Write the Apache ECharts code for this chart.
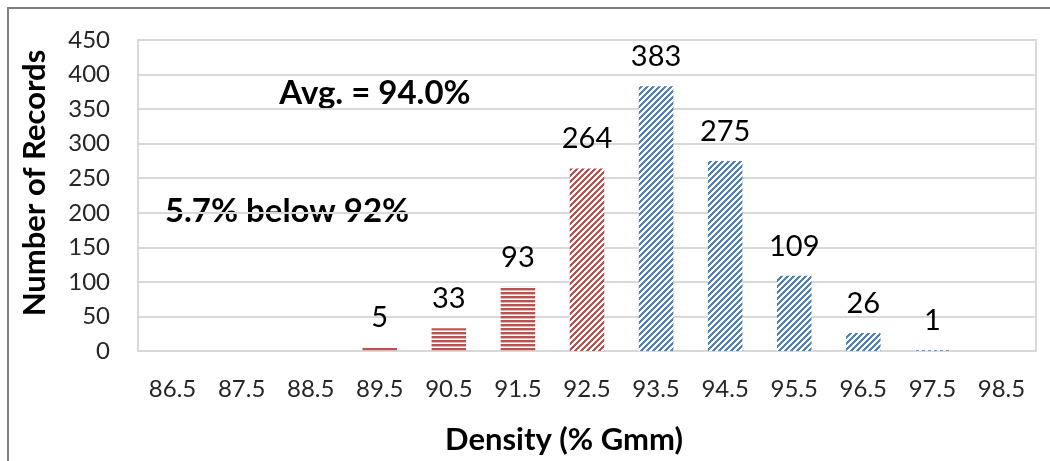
<!DOCTYPE html>
<html><head><meta charset="utf-8">
<script src="https://cdn.jsdelivr.net/npm/echarts@6/dist/echarts.min.js"></script>
<style>html,body{margin:0;padding:0;background:#fff}#c{width:1050px;height:461px}</style>
</head><body><div id="c"></div>
<script>
const categories = ['86.5','87.5','88.5','89.5','90.5','91.5','92.5','93.5','94.5','95.5','96.5','97.5','98.5'];
const counts = [0,0,0,5,33,93,264,383,275,109,26,1,0];
const yTicks = [0,50,100,150,200,250,300,350,400,450];
const yTitle = 'Number of Records';
const xTitle = 'Density (% Gmm)';
const noteAvg = 'Avg. = 94.0%';
const noteBelow = '5.7% below 92%';

const FONT = 'Lato, "Open Sans", sans-serif';
const RED = '#c0504d', BLUE = '#4f81bd';

function hPattern(col){
  const c = document.createElement('canvas'); c.width = 4; c.height = 4;
  const g = c.getContext('2d');
  g.fillStyle = '#fff'; g.fillRect(0,0,4,4);
  g.fillStyle = col; g.fillRect(0,0,4,2);
  g.globalAlpha = 0.4; g.fillRect(0,2,4,1);
  return {image: c, repeat: 'repeat'};
}
function dPattern(col){
  const n = 6;
  const c = document.createElement('canvas'); c.width = n; c.height = n;
  const g = c.getContext('2d');
  g.fillStyle = '#fff'; g.fillRect(0,0,n,n);
  g.fillStyle = col;
  for (let x=0;x<n;x++) for (let y=0;y<n;y++) if ((x+y)%n < 3) g.fillRect(x,y,1,1);
  return {image: c, repeat: 'repeat'};
}
const patH = hPattern(RED), patDR = dPattern(RED), patDB = dPattern(BLUE);
function patFor(cat){
  const v = parseFloat(cat);
  if (v < 92) return patH;
  if (v < 93) return patDR;
  return patDB;
}

const chart = echarts.init(document.getElementById('c'), null, {renderer:'canvas'});
chart.setOption({
  animation: false,
  grid: {left:138, right:14, top:40, bottom:110, show:true, borderColor:'#d9d9d9', borderWidth:2},
  xAxis: {
    type:'category', data: categories,
    axisLine:{lineStyle:{color:'#d9d9d9', width:2}},
    axisTick:{show:false},
    axisLabel:{color:'#262626', fontSize:24, fontFamily:FONT, margin:26}
  },
  yAxis: {
    type:'value', min:yTicks[0], max:yTicks[yTicks.length-1], interval:yTicks[1]-yTicks[0],
    axisLine:{show:false}, axisTick:{show:false},
    splitLine:{lineStyle:{color:'#d9d9d9', width:2}},
    axisLabel:{color:'#262626', fontSize:24, fontFamily:FONT, margin:28}
  },
  series: [{
    type:'bar', barWidth:'50%',
    data: counts.map((v,i)=>({value:v, itemStyle:{color: patFor(categories[i])}})),
    label:{show:true, position:'top', distance:15, fontSize:29, fontFamily:FONT, color:'#000',
      formatter: p => p.value ? String(p.value) : ''}
  }],
  graphic: [
    {type:'rect', shape:{x:8, y:8, width:1200, height:1200}, style:{fill:'none', stroke:'#7f7f7f', lineWidth:2}, silent:true},
    {type:'text', x:35, y:183, rotation:Math.PI/2, style:{text:yTitle, font:'bold 31px '+FONT, fill:'#000', textAlign:'center', textVerticalAlign:'middle'}},
    {type:'text', x:564, y:440, style:{text:xTitle, font:'bold 31px '+FONT, fill:'#000', textAlign:'center', textVerticalAlign:'middle'}},
    {type:'text', x:375, y:93, style:{text:noteAvg, font:'bold 33px '+FONT, fill:'#000', textAlign:'center', textVerticalAlign:'middle'}},
    {type:'text', x:287, y:211, style:{text:noteBelow, font:'bold 33px '+FONT, fill:'#000', textAlign:'center', textVerticalAlign:'middle'}}
  ]
});
</script></body></html>
